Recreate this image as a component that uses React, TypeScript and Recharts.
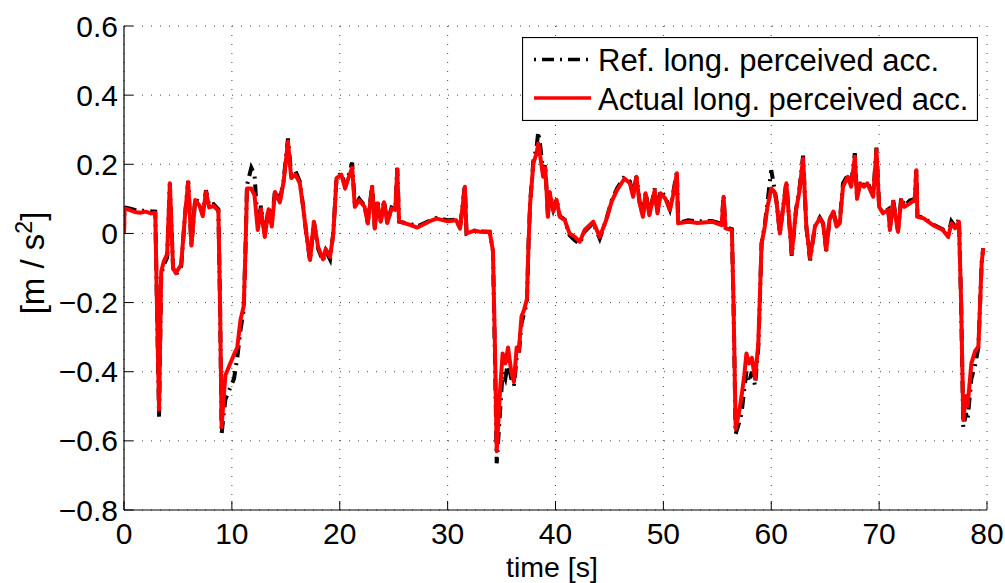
import React from 'react';
import { LineChart, Line, XAxis, YAxis, CartesianGrid, Legend } from 'recharts';

const timeS = [
  0, 0.05, 0.5, 1.0, 1.5, 2.0, 2.5, 2.9, 3.05, 3.25, 3.45, 3.7, 4.0, 4.25, 4.55, 4.8, 5.3, 5.65, 5.95, 6.25,
  6.6, 7.0, 7.3, 7.6, 7.9, 8.3, 8.75, 8.9, 9.05, 9.25, 9.4, 9.8, 10.2, 10.5, 10.8, 11.1, 11.25, 11.4, 11.8, 12.1,
  12.4, 12.7, 13.05, 13.4, 13.7, 14.0, 14.45, 14.8, 15.2, 15.5, 15.9, 16.3, 16.6, 16.9, 17.25, 17.6, 18.0, 18.45, 18.7, 19.1,
  19.4, 19.7, 20.15, 20.5, 20.8, 21.15, 21.4, 21.8, 22.3, 22.6, 23.0, 23.25, 23.5, 23.8, 24.1, 24.4, 24.8, 25.15, 25.33, 25.5,
  26.5, 27.2, 28.4, 29.0, 30.0, 30.8, 31.15, 31.6, 31.75, 32.5, 33.0, 33.9, 34.2, 34.4, 34.55, 34.85, 35.1, 35.35, 35.6, 35.9,
  36.15, 36.4, 36.6, 36.85, 37.1, 37.35, 37.5, 37.65, 37.95, 38.25, 38.4, 38.6, 38.85, 39.05, 39.3, 39.45, 39.8, 40.1, 40.4, 40.85,
  41.3, 41.8, 42.25, 42.7, 43.5, 44.1, 44.7, 45.2, 45.7, 46.4, 46.9, 47.2, 47.5, 47.8, 48.1, 48.35, 48.7, 49.2, 49.45, 49.75,
  50.2, 50.6, 50.9, 51.25, 51.37, 52.3, 53.2, 54.5, 55.4, 55.58, 55.75, 56.35, 56.5, 56.7, 57.0, 57.25, 57.5, 57.7, 57.95, 58.2,
  58.5, 58.8, 58.95, 59.1, 59.4, 59.65, 60.0, 60.3, 60.5, 60.8, 61.4, 61.9, 62.3, 62.6, 62.95, 63.25, 63.6, 64.05, 64.5, 64.8,
  65.1, 65.4, 65.75, 66.05, 66.35, 66.65, 67.1, 67.4, 67.75, 67.95, 68.25, 68.6, 68.9, 69.45, 69.75, 70.0, 70.35, 70.85, 71.0, 71.3,
  71.75, 72.05, 72.35, 72.85, 73.3, 73.45, 73.55, 74.1, 75.0, 75.9, 76.4, 76.7, 77.05, 77.4, 77.6, 77.8, 78.05, 78.2, 78.55, 78.9,
  79.2, 79.35, 79.5, 79.65,
];

const actualAcc = [
  0.0, 0.072, 0.068, 0.062, 0.06, 0.063, 0.058, 0.06, -0.2, -0.51, -0.11, -0.08, -0.06, 0.145, -0.1, -0.115, -0.09, 0.05, 0.148, -0.035,
  0.097, 0.08, 0.05, 0.12, 0.075, 0.08, 0.065, -0.2, -0.56, -0.47, -0.41, -0.38, -0.35, -0.33, -0.25, -0.21, -0.06, 0.13, 0.13, 0.11,
  0.01, 0.07, -0.01, 0.07, 0.02, 0.12, 0.09, 0.15, 0.265, 0.16, 0.17, 0.145, 0.077, 0.0, -0.077, 0.034, -0.04, -0.075, -0.045, -0.068,
  0.0, 0.16, 0.17, 0.13, 0.16, 0.19, 0.077, 0.096, 0.077, 0.029, 0.135, 0.014, 0.087, 0.034, 0.09, 0.03, 0.072, 0.068, 0.185, 0.034,
  0.025, 0.017, 0.036, 0.043, 0.035, 0.038, 0.014, 0.135, 0.0, 0.008, 0.005, 0.004, -0.05, -0.35, -0.63, -0.46, -0.347, -0.376, -0.33, -0.4,
  -0.43, -0.33, -0.34, -0.24, -0.22, -0.19, -0.03, 0.087, 0.203, 0.232, 0.26, 0.22, 0.164, 0.19, 0.048, 0.12, 0.064, 0.097, 0.048, 0.039,
  0.0, -0.01, -0.024, 0.01, 0.034, -0.01, 0.039, 0.092, 0.125, 0.159, 0.145, 0.106, 0.164, 0.087, 0.048, 0.116, 0.053, 0.125, 0.058, 0.116,
  0.1, 0.067, 0.11, 0.174, 0.029, 0.034, 0.03, 0.034, 0.024, 0.106, 0.015, 0.01, -0.2, -0.565, -0.52, -0.47, -0.41, -0.347, -0.376, -0.36,
  -0.42, -0.318, -0.18, -0.03, 0.02, 0.077, 0.13, 0.12, 0.087, 0.0, 0.145, -0.058, 0.067, 0.12, 0.217, 0.02, -0.072, 0.02, 0.044, 0.029,
  -0.048, 0.039, 0.063, 0.02, 0.03, 0.135, 0.164, 0.135, 0.222, 0.1, 0.145, 0.135, 0.145, 0.106, 0.241, 0.077, 0.058, 0.068, 0.01, 0.092,
  0.005, 0.097, 0.077, 0.087, 0.097, 0.183, 0.048, 0.044, 0.024, 0.01, -0.01, 0.029, 0.015, 0.034, -0.2, -0.54, -0.47, -0.5, -0.376, -0.34,
  -0.328, -0.21, -0.087, -0.043,
];

const refAcc = [
  0.0, 0.075, 0.072, 0.068, 0.065, 0.066, 0.064, 0.063, -0.2, -0.53, -0.12, -0.09, -0.07, 0.145, -0.1, -0.12, -0.095, 0.05, 0.152, -0.035,
  0.1, 0.09, 0.055, 0.125, 0.08, 0.085, 0.07, -0.2, -0.58, -0.52, -0.48, -0.45, -0.42, -0.36, -0.28, -0.22, -0.06, 0.14, 0.19, 0.17,
  0.02, 0.08, -0.005, 0.075, 0.03, 0.125, 0.095, 0.155, 0.275, 0.17, 0.18, 0.15, 0.08, 0.0, -0.08, 0.035, -0.045, -0.08, -0.05, -0.075,
  0.0, 0.16, 0.175, 0.14, 0.165, 0.205, 0.08, 0.1, 0.08, 0.03, 0.14, 0.015, 0.09, 0.035, 0.095, 0.03, 0.075, 0.07, 0.19, 0.034,
  0.028, 0.02, 0.038, 0.045, 0.038, 0.04, 0.015, 0.14, 0.0, 0.008, 0.006, 0.005, -0.05, -0.38, -0.665, -0.52, -0.4, -0.42, -0.37, -0.42,
  -0.44, -0.36, -0.35, -0.26, -0.23, -0.2, -0.03, 0.09, 0.21, 0.25, 0.294, 0.25, 0.175, 0.2, 0.05, 0.12, 0.07, 0.1, 0.05, 0.04,
  -0.005, -0.02, -0.03, 0.005, 0.03, -0.015, 0.04, 0.095, 0.13, 0.165, 0.15, 0.11, 0.165, 0.09, 0.05, 0.12, 0.055, 0.13, 0.06, 0.125,
  0.105, 0.07, 0.115, 0.18, 0.03, 0.038, 0.035, 0.036, 0.028, 0.11, 0.018, 0.012, -0.2, -0.58, -0.55, -0.52, -0.45, -0.4, -0.43, -0.4,
  -0.44, -0.33, -0.19, -0.03, 0.025, 0.09, 0.183, 0.13, 0.09, 0.0, 0.15, -0.065, 0.07, 0.125, 0.225, 0.02, -0.078, 0.02, 0.046, 0.03,
  -0.05, 0.04, 0.065, 0.025, 0.035, 0.145, 0.17, 0.14, 0.232, 0.105, 0.15, 0.14, 0.15, 0.11, 0.248, 0.08, 0.06, 0.07, 0.012, 0.097,
  0.007, 0.105, 0.08, 0.095, 0.1, 0.185, 0.05, 0.046, 0.026, 0.012, -0.005, 0.035, 0.02, 0.04, -0.2, -0.56, -0.52, -0.54, -0.42, -0.38,
  -0.33, -0.21, -0.087, -0.043,
];

const xTicks = [0, 10, 20, 30, 40, 50, 60, 70, 80];
const yTicks = [-0.8, -0.6, -0.4, -0.2, 0, 0.2, 0.4, 0.6];
const seriesNames = ['Ref. long. perceived acc.', 'Actual long. perceived acc.'];
const xLabel = 'time [s]';

const data = timeS.map((t, i) => ({ t, ref: refAcc[i], act: actualAcc[i] }));

const FONT = '"Liberation Sans", Arial, Helvetica, sans-serif';
const TICK_LEN = 9;
const TICK_FS = 30;

const fmtY = (v: number) => (v === 0 ? '0' : v.toFixed(1).replace('-', '\u2212'));

const LeftTick = (p: any) => {
  const { x, y, payload } = p;
  return (
    <g>
      <text x={x} y={y} dy="0.35em" textAnchor="end" fontSize={TICK_FS} fontFamily={FONT} fill="#000">
        {fmtY(payload.value)}
      </text>
      <line x1={x + 6} x2={x + 6 + TICK_LEN} y1={y} y2={y} stroke="#000" strokeWidth={1} />
    </g>
  );
};

const BottomTick = (p: any) => {
  const { x, y, payload } = p;
  return (
    <g>
      <text x={x} y={y + 21} textAnchor="middle" fontSize={TICK_FS} fontFamily={FONT} fill="#000">
        {String(payload.value)}
      </text>
      <line x1={x} x2={x} y1={y - 13} y2={y - 13 - TICK_LEN} stroke="#000" strokeWidth={1} />
    </g>
  );
};

const TopTick = (p: any) => {
  const { x, y } = p;
  return <line x1={x} x2={x} y1={y} y2={y + TICK_LEN} stroke="#000" strokeWidth={1} />;
};

const RightTick = (p: any) => {
  const { x, y } = p;
  return <line x1={x - TICK_LEN} x2={x} y1={y} y2={y} stroke="#000" strokeWidth={1} />;
};

const LegendBox = () => (
  <svg width={456} height={84} style={{ display: 'block' }}>
    <rect x={0.5} y={0.5} width={455} height={83} fill="#fff" stroke="#000" strokeWidth={1.2} />
    <line x1={12} x2={69} y1={22.5} y2={22.5} stroke="#000" strokeWidth={3.5} strokeDasharray="2 6 12 6" />
    <text x={76} y={34} fontSize={31} fontFamily={FONT} fill="#000">{seriesNames[0]}</text>
    <line x1={12} x2={69} y1={61} y2={61} stroke="#ff0000" strokeWidth={3.5} />
    <text x={76} y={73} fontSize={31} fontFamily={FONT} fill="#000">{seriesNames[1]}</text>
  </svg>
);

const YLabel = () => (
  <text
    x={44}
    y={263}
    transform="rotate(-90 44 263)"
    textAnchor="middle"
    fontSize={33}
    fontFamily={FONT}
    fill="#000"
  >
    <tspan>[m / s</tspan>
    <tspan dy={-12} fontSize={23}>2</tspan>
    <tspan dy={12}>]</tspan>
  </text>
);

const XLabel = () => (
  <text x={552} y={576.8} textAnchor="middle" fontSize={28.5} fontFamily={FONT} fill="#000">
    {xLabel}
  </text>
);

export default function App() {
  return (
    <div style={{ position: 'absolute', left: 0, top: 0, background: '#fff' }}>
      <LineChart
        width={1005}
        height={583}
        data={data}
        margin={{ top: 26, right: 18, bottom: 0, left: 0 }}
        style={{ fontFamily: FONT }}
      >
        <CartesianGrid stroke="#444" strokeDasharray="1 8" strokeWidth={1} />
        <XAxis
          dataKey="t"
          type="number"
          domain={[0, 80]}
          ticks={xTicks}
          allowDataOverflow
          height={73}
          tickSize={0}
          tickMargin={13}
          tickLine={false}
          tick={BottomTick}
          axisLine={{ stroke: '#000', strokeWidth: 1.2 }}
          interval={0}
          label={XLabel}
        />
        <XAxis
          xAxisId="top"
          orientation="top"
          dataKey="t"
          type="number"
          domain={[0, 80]}
          ticks={xTicks}
          allowDataOverflow
          height={0}
          tickSize={0}
          tickMargin={0}
          tickLine={false}
          tick={TopTick}
          axisLine={{ stroke: '#000', strokeWidth: 1.2 }}
          interval={0}
        />
        <YAxis
          type="number"
          domain={[-0.8, 0.6]}
          ticks={yTicks}
          allowDataOverflow
          width={124}
          tickSize={0}
          tickMargin={6}
          tickLine={false}
          tick={LeftTick}
          axisLine={{ stroke: '#000', strokeWidth: 1.2 }}
          interval={0}
          label={YLabel}
        />
        <YAxis
          yAxisId="right"
          orientation="right"
          type="number"
          domain={[-0.8, 0.6]}
          ticks={yTicks}
          allowDataOverflow
          width={0}
          tickSize={0}
          tickMargin={0}
          tickLine={false}
          tick={RightTick}
          axisLine={{ stroke: '#000', strokeWidth: 1.2 }}
          interval={0}
        />
        <Legend
          layout="vertical"
          align="center"
          verticalAlign="middle"
          wrapperStyle={{ left: 522, top: 37, width: 456, height: 84 }}
          content={LegendBox}
        />
        <Line
          dataKey="ref"
          name={seriesNames[0]}
          type="linear"
          stroke="#000"
          strokeWidth={4}
          strokeDasharray="12 6 2 6"
          dot={false}
          activeDot={false}
          isAnimationActive={false}
        />
        <Line
          dataKey="act"
          name={seriesNames[1]}
          type="linear"
          stroke="#ff0000"
          strokeWidth={4}
          strokeLinejoin="round"
          dot={false}
          activeDot={false}
          isAnimationActive={false}
        />
      </LineChart>
    </div>
  );
}
